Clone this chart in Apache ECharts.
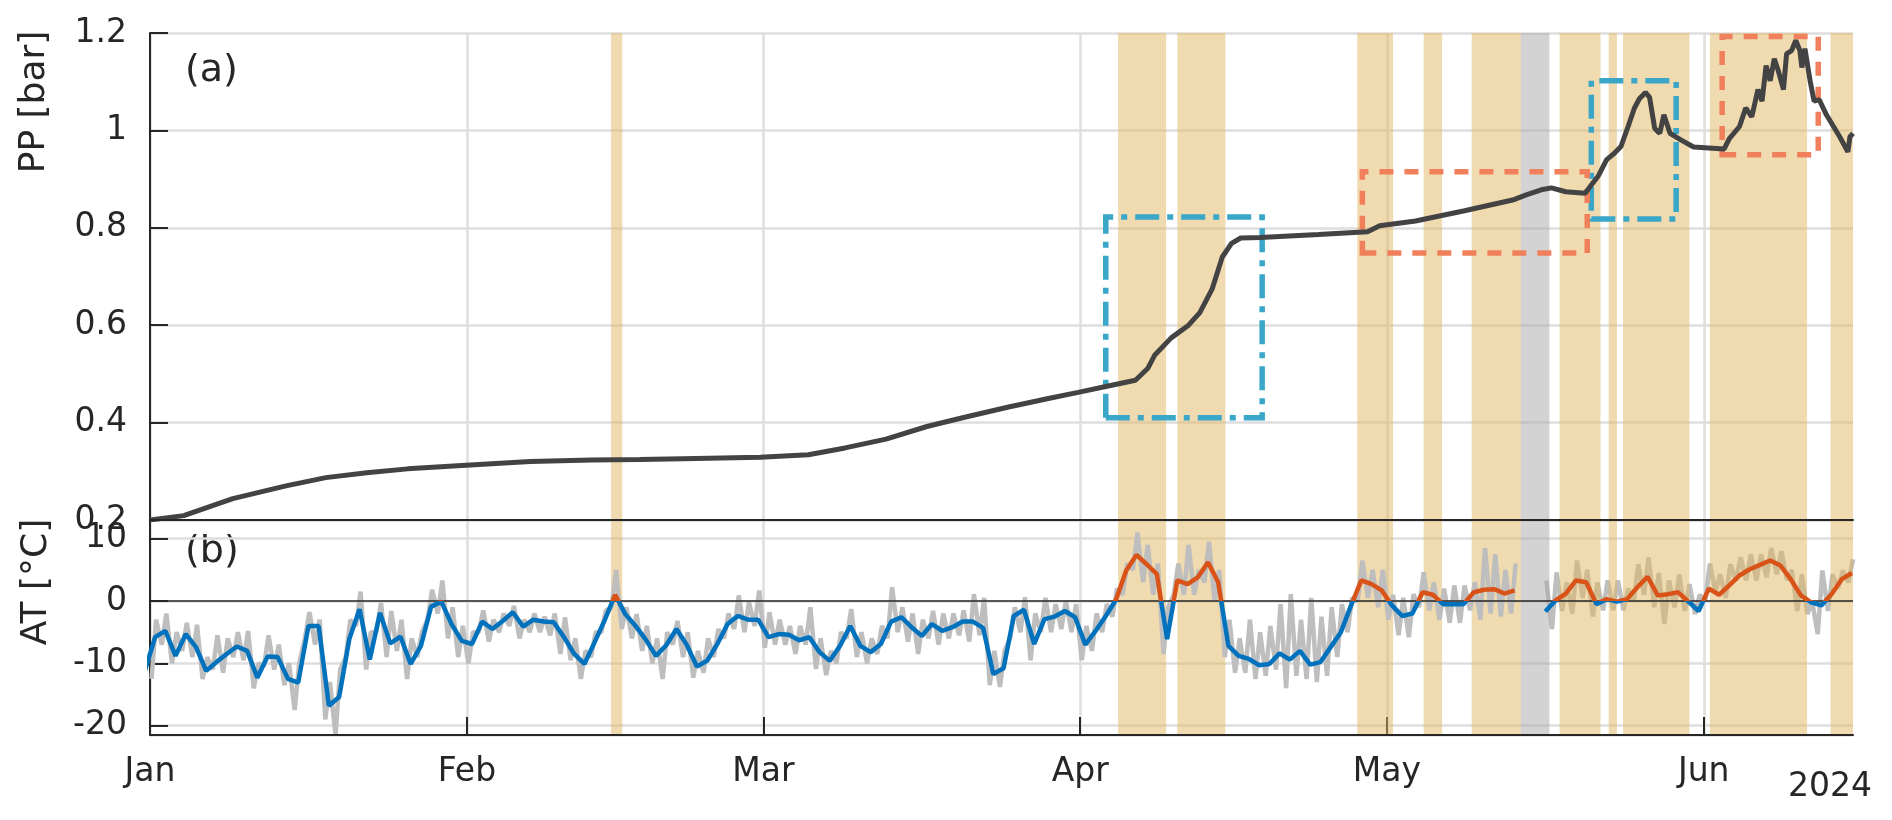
<!DOCTYPE html>
<html>
<head>
<meta charset="utf-8">
<title>PP / AT 2024</title>
<script src="https://cdn.jsdelivr.net/npm/echarts@6/dist/echarts.min.js"></script>
<style>
  html, body { margin: 0; padding: 0; background: #fff; }
  #chart { width: 1892px; height: 820px; }
</style>
</head>
<body>
<div id="chart"></div>
<script>
const monthLabels = ['Jan', 'Feb', 'Mar', 'Apr', 'May', 'Jun']
const yearLabel = '2024'

// pore pressure: day of year (0 = 1 Jan 00:00) and value [bar]
const ppDay = [0, 3.3, 8.1, 13.3, 17.2, 21.2, 25.2, 30.5, 37.2, 43.2, 47.9, 52.1, 59.7, 64.4, 68.0, 72.0,
  76.0, 79.9, 84.0, 88.0, 90.8, 93.5, 96.4, 97.6, 98.3, 99.9, 101.6, 102.7, 103.9, 104.9, 105.8, 106.7,
  108.6, 114.3, 119.1, 120.3, 123.8, 128.6, 133.3, 134.7, 136.1, 137.1, 138.5, 140.4, 141.0, 141.7,
  142.5, 143.2, 143.9, 144.6, 145.2, 145.7, 146.3, 146.7, 147.2, 147.7, 148.1, 148.7, 149.8, 151.0,
  154.0, 154.5, 155.5, 156.1, 156.7, 157.3, 157.7, 158.1, 158.5, 158.9, 159.3, 159.8, 160.1, 160.6,
  161.0, 161.4, 161.6, 161.9, 162.4, 162.8, 163.3, 164.0, 165.3, 166.1, 166.3, 166.6]
const ppVal = [0.200, 0.209, 0.244, 0.270, 0.287, 0.297, 0.305, 0.312, 0.320, 0.323, 0.324, 0.326, 0.329,
  0.334, 0.348, 0.366, 0.392, 0.412, 0.432, 0.450, 0.462, 0.474, 0.487, 0.511, 0.539, 0.574, 0.600,
  0.626, 0.674, 0.740, 0.768, 0.779, 0.780, 0.786, 0.792, 0.804, 0.814, 0.835, 0.857, 0.868, 0.878,
  0.882, 0.874, 0.871, 0.888, 0.907, 0.940, 0.952, 0.967, 1.008, 1.045, 1.065, 1.078, 1.068, 1.004,
  0.994, 1.032, 0.994, 0.980, 0.966, 0.962, 0.983, 1.008, 1.046, 1.028, 1.084, 1.060, 1.133, 1.102,
  1.147, 1.122, 1.084, 1.157, 1.164, 1.185, 1.164, 1.129, 1.168, 1.102, 1.060, 1.063, 1.032, 0.987,
  0.956, 0.987, 0.994]

// daily mean air temperature [°C]; first value is 31 Dec, then one per day from 1 Jan (drawn at noon)
const atMean = [-11.2,
  -5.8, -4.8, -8.8, -5.3, -7.4, -11.2, -9.8, -8.5, -7.3, -8.0,
  -12.3, -8.9, -9.0, -12.5, -13.1, -4.0, -4.0, -16.8, -15.4, -6.1,
  -1.3, -9.4, -1.9, -6.8, -5.7, -10.1, -7.2, -0.9, -0.1, -3.7,
  -6.4, -6.9, -3.3, -4.5, -3.2, -1.8, -4.1, -3.0, -3.3, -3.4,
  -5.8, -8.5, -10.1, -6.6, -3.0, 1.0, -2.1, -4.0, -6.2, -8.8,
  -7.1, -4.5, -7.0, -10.5, -9.6, -6.9, -3.7, -2.4, -3.0, -3.0,
  -5.8, -5.3, -5.4, -6.3, -5.8, -8.2, -9.6, -7.2, -4.0, -7.2,
  -8.2, -6.9, -3.3, -2.6, -4.2, -5.6, -3.7, -4.8, -4.2, -3.3,
  -3.3, -4.3, -11.7, -10.8, -2.4, -1.4, -6.9, -2.9, -2.5, -1.6,
  -2.6, -7.0, -4.8, -2.4, 0.2, 4.9, 7.4, 5.9, 4.3, -6.1,
  3.3, 2.7, 3.8, 6.2, 3.0, -7.2, -8.8, -9.3, -10.3, -10.1,
  -8.4, -9.4, -8.0, -10.2, -9.8, -7.4, -5.0, -0.7, 3.3, 2.7,
  1.7, -0.7, -2.4, -2.0, 1.4, 1.0, -0.5, -0.5, -0.5, 1.4,
  1.8, 1.9, 1.2, 1.7, null, null, -1.7, 0.1, 1.2, 3.3,
  3.0, -0.5, 0.3, -0.1, 0.3, 2.2, 3.9, 0.9, 1.1, 1.4,
  -0.1, -1.6, 2.0, 1.0, 2.5, 4.1, 5.1, 5.8, 6.5, 5.7,
  3.5, 0.9, -0.2, -0.7, 1.1, 3.5, 4.5]

// sub-daily air temperature, a low and a high reading per day from 1 Jan [°C]
const atLow = [
  -12.5, -7, -10, -8, -9, -12.5, -11, -11.5, -9, -9.5,
  -14, -10.5, -11, -13.5, -17.5, -6, -7, -19, -21.5, -9,
  -4, -11, -5, -9, -8, -12.5, -9, -3, -2, -6,
  -9, -10, -5, -6.5, -5, -4, -6, -5, -5, -5.5,
  -8.5, -9.5, -12.5, -9, -5, -1, -4.5, -6, -8, -10,
  -12.5, -7, -9, -12.3, -11.5, -9, -6, -4.5, -5, -4,
  -7.5, -7, -7, -8.5, -7, -10.9, -11.9, -10, -6, -9,
  -10, -8.5, -6, -5, -6.5, -8.5, -6, -7, -6, -5.5,
  -6.5, -5.5, -13.5, -13.8, -6, -5, -9.5, -5, -5, -4.5,
  -5, -9.5, -8, -5, -2.5, 1, 5, 3, 1, -8.5,
  1, 1, 1, 3, 0, -9, -11.5, -11.5, -12.5, -12,
  -11, -14, -12, -12.5, -13, -12, -9, -5, 0, 0.5,
  -1, -3, -5.5, -5.8, -1, -1.5, -3, -3.5, -3.5, -1.5,
  -3, -2, -2.5, -2, null, null, null, -4.5, -1.6, -2,
  0.5, -2.5, -1.5, -1.5, -1.5, 0, 1, -1, -3.7, -1,
  -1.6, -2.1, 0, 1.5, 0.5, 3.3, 3.3, 3.3, 3.8, 4.3,
  3.3, -1.6, -2.1, -5.3, -1.6, 2, 3]
const atHigh = [
  -3, -2, -5, -3.5, -3.8, -9, -5.5, -6, -5, -4.8,
  -10, -5.5, -7, -10, -10, -1.8, -3, -13, -11, -3,
  1.5, -5, -0.3, -1.6, -3, -6, -5, 1.8, 3.3, -1,
  -4, -5, -1.5, -3, -2, -0.8, -3, -2, -2.5, -2,
  -2.6, -6, -8, -5, -1.5, 5, -1, -2.1, -4, -6,
  -5, -3.2, -5, -8, -6, -4.5, -2, 0.9, -0.2, 1.7,
  -1.8, -3, -4, -4, -1, -6, -8, -5, -1.3, -5,
  -6, -4, 2.2, -1, -2, -3, -1.6, -2, -2, -1.5,
  1.1, 0.5, -8, -8, -1, 0.6, -2, 0.5, -0.5, 0,
  -0.5, -4, -2, -0.5, 2, 6, 11, 9, 6, -1,
  6, 9, 5, 9.5, 5, -3, -6, -3, -5, -4,
  -0.5, 1.1, -3, 0.5, -2.5, -1, -0.5, 0.5, 6.5, 5,
  5, 1, 0.5, 1.1, 4.6, 3, 2, 2.5, 2.5, 3,
  8.5, 7.5, 5, 6, null, null, 3.3, 4.6, 3, 6.5,
  5, 3, 3.3, 3.3, 2, 5.9, 7, 4.5, 3.3, 4.3,
  2.7, 1, 6, 4.3, 5.9, 7, 7.5, 7.5, 8.5, 8,
  5, 4.3, 0, 4.9, 4.3, 4.9, 6.7]

// shaded periods [startDay, endDay]
const tanBands = [[45.1, 46.2], [94.7, 99.4], [100.5, 105.2], [118.1, 121.6], [124.6, 126.4],
  [129.3, 134.1], [137.9, 141.9], [142.7, 143.5], [144.1, 150.6], [152.6, 162.1], [164.4, 166.8]]
const gapBand = [134.1, 136.9]

// highlighted windows [startDay, endDay, low, high]
const blueBoxes = [[93.5, 108.8, 0.41, 0.822], [141.0, 149.3, 0.818, 1.102]]
const orangeBoxes = [[118.6, 140.6, 0.748, 0.915], [153.8, 163.2, 0.95, 1.193]]

const xStartDay = 0
const xEndDay = 166.6

// x axis is in days since 1 Jan 2024
const DAY = 86400000
const monthTicks = monthLabels.map((m, i) => (Date.UTC(2024, i, 1) - Date.UTC(2024, 0, 1)) / DAY)

const FONT = 'DejaVu Sans'
const TXT = '#262626'
const axisLineStyle = { color: '#262626', width: 2 }
const gridLineStyle = { color: '#dedede', width: 2.5 }

const ppData = ppDay.map((d, i) => [d, ppVal[i]])
const meanData = atMean.map((v, i) => [i - 0.5, v])
const rawEarly = []
const rawLate = []
atLow.forEach((lo, n) => {
  const target = n < gapBand[0] ? rawEarly : rawLate
  target.push([n + 0.15, lo], [n + 0.6, atHigh[n]])
})

const bandAreas = tanBands.map(([a, b]) => [{ xAxis: a }, { xAxis: b }])
bandAreas.push([
  { xAxis: gapBand[0], itemStyle: { color: 'rgba(168,168,168,0.5)' } },
  { xAxis: gapBand[1] }
])

const boxAreas = (boxes, color, dash) => boxes.map(([a, b, lo, hi]) => [
  {
    coord: [a, lo],
    itemStyle: { color: 'rgba(0,0,0,0)', borderColor: color, borderWidth: 5.5, borderType: dash }
  },
  { coord: [b, hi] }
])

const holder = (xi, yi, z, extra) => Object.assign({
  type: 'line',
  xAxisIndex: xi,
  yAxisIndex: yi,
  z: z,
  data: [[0, null]],
  showSymbol: false,
  silent: true
}, extra)

const bandMark = (z) => ({
  silent: true,
  z: z,
  itemStyle: { color: 'rgba(225,181,97,0.5)' },
  data: bandAreas
})

const monthName = (v) => {
  const i = monthTicks.findIndex((m) => Math.abs(m - v) < 0.01)
  return i < 0 ? '' : monthLabels[i]
}

const xAxisBase = (gi) => ({
  type: 'value',
  gridIndex: gi,
  min: xStartDay,
  max: xEndDay,
  axisLine: { show: true, onZero: false, lineStyle: axisLineStyle },
  splitLine: { show: true, lineStyle: gridLineStyle }
})

const textStyle = (size, align) => ({
  font: size + 'px "DejaVu Sans"',
  fill: TXT,
  textAlign: align,
  align: align,
  textVerticalAlign: 'middle',
  verticalAlign: 'middle'
})

const chart = echarts.init(document.getElementById('chart'))
chart.setOption({
  animation: false,
  backgroundColor: '#fff',
  grid: [
    { left: 150, right: 39, top: 33, height: 487, outerBoundsMode: 'none' },
    { left: 150, right: 39, top: 520, height: 215, outerBoundsMode: 'none' }
  ],
  xAxis: [
    Object.assign(xAxisBase(0), {
      axisTick: { show: false, customValues: monthTicks },
      axisLabel: { show: false, customValues: monthTicks }
    }),
    Object.assign(xAxisBase(1), {
      axisTick: { show: true, inside: true, length: 18, lineStyle: axisLineStyle, customValues: monthTicks },
      axisLabel: {
        customValues: monthTicks,
        formatter: monthName,
        fontFamily: FONT,
        fontSize: 33,
        color: TXT,
        margin: 21
      }
    })
  ],
  yAxis: [
    {
      type: 'value',
      gridIndex: 0,
      min: 0.2,
      max: 1.2,
      interval: 0.2,
      axisLine: { show: true, lineStyle: axisLineStyle },
      axisTick: { show: true, inside: true, length: 18, lineStyle: axisLineStyle },
      axisLabel: { fontFamily: FONT, fontSize: 33, color: TXT, margin: 23 },
      splitLine: { show: true, lineStyle: gridLineStyle }
    },
    {
      type: 'value',
      gridIndex: 1,
      min: -21.5,
      max: 13,
      splitNumber: 3,
      axisLine: { show: true, lineStyle: axisLineStyle },
      axisTick: { show: true, inside: true, length: 18, lineStyle: axisLineStyle },
      axisLabel: { fontFamily: FONT, fontSize: 33, color: TXT, margin: 23, showMinLabel: false, showMaxLabel: false },
      splitLine: { show: true, lineStyle: gridLineStyle }
    }
  ],
  visualMap: {
    type: 'piecewise',
    show: false,
    seriesIndex: 8,
    dimension: 1,
    pieces: [
      { gt: -100, lte: 0, color: '#0072BD' },
      { gt: 0, lte: 100, color: '#D95319' }
    ]
  },
  series: [
    // (a) shading, boxes, pore pressure
    holder(0, 0, 1, { markArea: bandMark(1) }),
    holder(0, 0, 3, {
      markArea: {
        silent: true,
        z: 3,
        data: boxAreas(blueBoxes, '#3aa6c8', [24, 8, 6, 8]).concat(boxAreas(orangeBoxes, '#f0805c', [14, 11]))
      }
    }),
    {
      type: 'line',
      xAxisIndex: 0,
      yAxisIndex: 0,
      z: 4,
      data: ppData,
      showSymbol: false,
      silent: true,
      lineStyle: { color: '#434343', width: 5 }
    },
    // (b) raw temperature after the gap sits under the shading
    {
      type: 'line',
      xAxisIndex: 1,
      yAxisIndex: 1,
      z: 1,
      data: rawLate,
      showSymbol: false,
      silent: true,
      lineStyle: { color: '#bebebe', width: 4.5 }
    },
    holder(1, 1, 2, { markArea: bandMark(2) }),
    {
      type: 'line',
      xAxisIndex: 1,
      yAxisIndex: 1,
      z: 3,
      data: rawEarly,
      showSymbol: false,
      silent: true,
      lineStyle: { color: '#bebebe', width: 4.5 }
    },
    holder(1, 1, 4, {
      markLine: {
        silent: true,
        z: 4,
        symbol: 'none',
        label: { show: false },
        lineStyle: { color: '#262626', width: 1.6, type: 'solid' },
        data: [{ yAxis: 0 }]
      }
    }),
    holder(1, 1, 6, {
      clip: false,
      markLine: {
        silent: true,
        z: 6,
        symbol: 'none',
        label: { show: false },
        lineStyle: { color: '#262626', width: 2, type: 'solid' },
        data: [{ yAxis: 13 }, { yAxis: -21.5 }]
      }
    }),
    {
      type: 'line',
      xAxisIndex: 1,
      yAxisIndex: 1,
      z: 5,
      data: meanData,
      showSymbol: false,
      silent: true,
      connectNulls: false,
      lineStyle: { width: 4.5 }
    }
  ],
  graphic: [
    { type: 'text', x: 185, y: 71, style: Object.assign({ text: '(a)' }, textStyle(38, 'left')) },
    { type: 'text', x: 185, y: 552, style: Object.assign({ text: '(b)' }, textStyle(38, 'left')) },
    { type: 'text', x: 35, y: 102, rotation: Math.PI / 2, style: Object.assign({ text: 'PP [bar]' }, textStyle(36, 'center')) },
    { type: 'text', x: 37, y: 582, rotation: Math.PI / 2, style: Object.assign({ text: 'AT [°C]' }, textStyle(36, 'center')) },
    { type: 'text', x: 1872, y: 787, style: Object.assign({ text: yearLabel }, textStyle(33, 'right')) }
  ]
})
</script>
</body>
</html>
